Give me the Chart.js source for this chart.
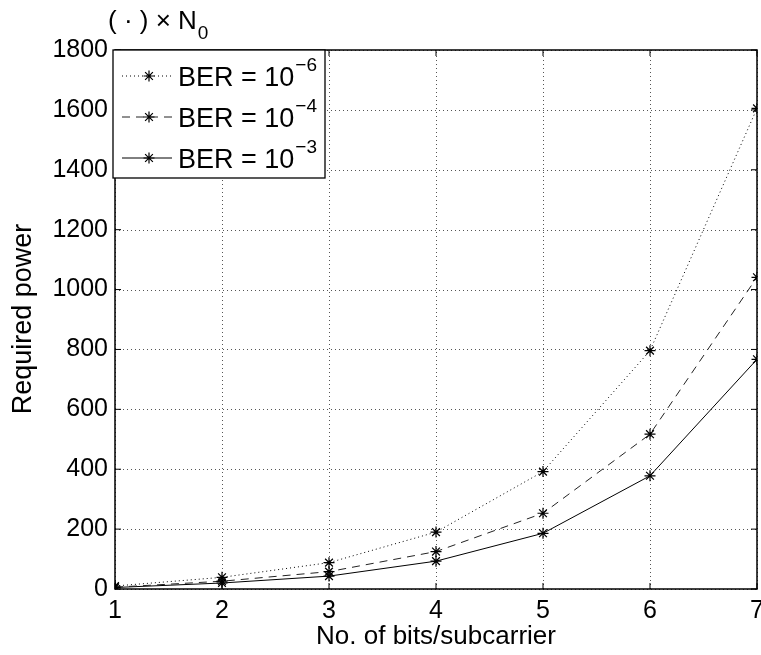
<!DOCTYPE html>
<html lang="en">
<head>
    <meta charset="UTF-8">
    <title>Required power</title>
    <script src="https://cdn.jsdelivr.net/npm/chart.js"></script>
    <style>
        body { margin: 0; background: #fff; }
    </style>
</head>
<body>
<canvas id="myChart" width="761" height="655"></canvas>

<script>
    // bits per subcarrier
    var bits = [1, 2, 3, 4, 5, 6, 7];
    // required power (x N0)
    var ber6 = [10, 39, 88, 190, 392, 796, 1605];
    var ber4 = [6, 26, 58, 125, 253, 517, 1041];
    var ber3 = [5, 20, 43, 93, 186, 378, 767];
    var seriesNames = ['6', '4', '3'];   // BER exponents for the legend

    var FONT = 'Liberation Sans, Arial, Helvetica, sans-serif';
    var ctx = document.getElementById('myChart').getContext('2d');

    function pts(vals) {
        return bits.map(function (b, i) { return { x: b, y: vals[i] }; });
    }

    function ds(vals, dash, color) {
        return {
            data: pts(vals),
            borderColor: color,
            borderWidth: 1,
            borderDash: dash,
            pointStyle: 'star',
            pointRadius: 5.5,
            pointBorderWidth: 1.2,
            pointBorderColor: '#000',
            pointBackgroundColor: '#000',
            fill: false,
            tension: 0,
            clip: 0
        };
    }

    function drawStar(c, x, y, r) {
        c.beginPath();
        for (var k = 0; k < 4; k++) {
            var ang = k * Math.PI / 4;
            c.moveTo(x - r * Math.cos(ang), y - r * Math.sin(ang));
            c.lineTo(x + r * Math.cos(ang), y + r * Math.sin(ang));
        }
        c.stroke();
    }

    function noPad(s) {
        s.paddingLeft = 0; s.paddingRight = 0; s.paddingTop = 0; s.paddingBottom = 0;
    }

    // dotted grid drawn at the scale ticks
    var grid = {
        id: 'dotGrid',
        beforeDatasetsDraw: function (chart) {
            var c = chart.ctx, a = chart.chartArea;
            var xs = chart.scales.x, ys = chart.scales.y;
            c.save();
            c.strokeStyle = '#555';
            c.lineWidth = 1;
            c.setLineDash([1, 3]);
            xs.ticks.forEach(function (t) {
                var px = Math.round(xs.getPixelForValue(t.value)) + 0.5;
                c.beginPath(); c.moveTo(px, a.bottom); c.lineTo(px, a.top); c.stroke();
            });
            ys.ticks.forEach(function (t) {
                var py = Math.round(ys.getPixelForValue(t.value)) + 0.5;
                c.beginPath(); c.moveTo(a.left, py); c.lineTo(a.right, py); c.stroke();
            });
            c.restore();
        }
    };

    // frame, inward ticks, legend box and text labels
    var decor = {
        id: 'decor',
        afterDraw: function (chart) {
            var c = chart.ctx, a = chart.chartArea;
            var xs = chart.scales.x, ys = chart.scales.y;
            c.save();
            c.strokeStyle = '#000';
            c.lineWidth = 1.5;
            c.setLineDash([]);
            c.strokeRect(a.left, a.top, a.right - a.left, a.bottom - a.top);

            c.lineWidth = 1;
            xs.ticks.forEach(function (t) {
                var px = xs.getPixelForValue(t.value);
                c.beginPath();
                c.moveTo(px, a.bottom); c.lineTo(px, a.bottom - 6);
                c.moveTo(px, a.top); c.lineTo(px, a.top + 6);
                c.stroke();
            });
            ys.ticks.forEach(function (t) {
                var py = ys.getPixelForValue(t.value);
                c.beginPath();
                c.moveTo(a.left, py); c.lineTo(a.left + 6, py);
                c.moveTo(a.right, py); c.lineTo(a.right - 6, py);
                c.stroke();
            });

            // legend
            var lx = 113, ly = 50, lw = 212, lh = 128;
            c.fillStyle = '#fff';
            c.fillRect(lx, ly, lw, lh);
            c.lineWidth = 1.3;
            c.strokeStyle = '#000';
            c.strokeRect(lx, ly, lw, lh);
            chart.data.datasets.forEach(function (d, i) {
                var y = ly + 26 + i * 41;
                c.lineWidth = 1;
                c.strokeStyle = d.borderColor;
                c.setLineDash(d.borderDash);
                c.beginPath();
                c.moveTo(lx + 9, y); c.lineTo(lx + 59, y);
                c.stroke();
                c.setLineDash([]);
                c.strokeStyle = '#000';
                c.lineWidth = 1.2;
                drawStar(c, lx + 36, y, 5.5);
                c.fillStyle = '#000';
                c.textBaseline = 'middle';
                c.textAlign = 'left';
                c.font = '27px ' + FONT;
                var txt = 'BER = 10';
                c.fillText(txt, lx + 65, y + 3);
                var w = c.measureText(txt).width;
                c.font = '19px ' + FONT;
                c.fillText('\u2212' + seriesNames[i], lx + 65 + w + 1, y - 10);
            });

            // top-left unit label
            c.fillStyle = '#000';
            c.font = '26px ' + FONT;
            c.textBaseline = 'middle';
            c.textAlign = 'left';
            var u = '( \u00b7 ) \u00d7 N';
            c.fillText(u, 108, 22);
            var uw = c.measureText(u).width;
            c.font = '19px ' + FONT;
            c.fillText('0', 108 + uw + 1, 34);

            // axis titles
            c.font = '26px ' + FONT;
            c.textAlign = 'center';
            c.fillText('No. of bits/subcarrier', (a.left + a.right) / 2, 637);
            c.save();
            c.translate(24, 319);
            c.rotate(-Math.PI / 2);
            c.font = '27px ' + FONT;
            c.fillText('Required power', 0, 0);
            c.restore();
            c.restore();
        }
    };

    var myChart = new Chart(ctx, {
        type: 'line',
        data: {
            datasets: [
                ds(ber6, [1, 3], '#000'),
                ds(ber4, [8, 6], '#222'),
                ds(ber3, [], '#000')
            ]
        },
        options: {
            responsive: false,
            animation: false,
            layout: { autoPadding: false, padding: { top: 50, right: 4, left: 0, bottom: 0 } },
            plugins: { legend: { display: false }, tooltip: { enabled: false } },
            scales: {
                x: {
                    type: 'linear',
                    min: 1, max: 7,
                    ticks: { stepSize: 1, color: '#000', font: { family: FONT, size: 25 }, padding: 7, maxRotation: 0 },
                    grid: { display: false, drawTicks: false },
                    border: { display: false },
                    afterFit: function (s) { s.height = 66; noPad(s); }
                },
                y: {
                    min: 0, max: 1800,
                    ticks: {
                        stepSize: 200, color: '#000', font: { family: FONT, size: 25 }, padding: 7,
                        callback: function (v) { return String(v); }
                    },
                    grid: { display: false, drawTicks: false },
                    border: { display: false },
                    afterFit: function (s) { s.width = 115; noPad(s); }
                }
            }
        },
        plugins: [grid, decor]
    });
</script>
</body>
</html>
